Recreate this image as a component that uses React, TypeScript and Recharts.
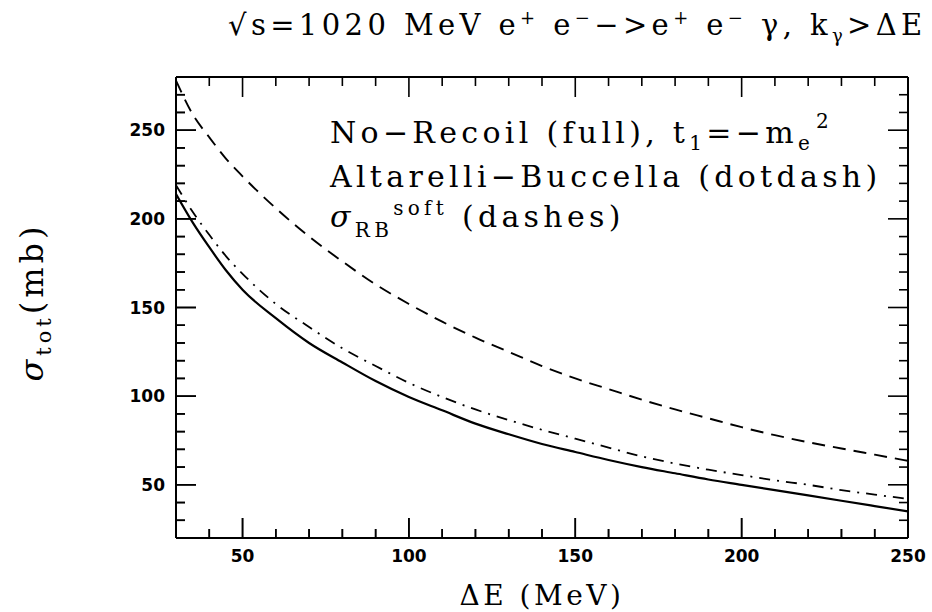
import { Line, LineChart, ReferenceLine, XAxis, YAxis } from "recharts";

// Delta E (MeV)
const deltaE = [30, 35, 40, 45, 50, 60, 70, 80, 90, 100, 110, 120, 130, 140, 150, 160, 170, 180, 190, 200, 210, 220, 230, 240, 250];
// No-Recoil (full), solid
const noRecoil = [214, 198, 184, 171, 160, 144, 130, 119, 108.5, 99.5, 92, 84.5, 78.5, 73, 68.5, 64, 60, 56.5, 53, 50, 47, 44, 41, 38, 35];
// Altarelli-Buccella, dot-dash
const altarelli = [219, 204, 191, 179, 169, 152, 139, 127, 117, 107.5, 99.5, 92.5, 86.5, 81, 76, 71, 66, 62, 58.5, 55.5, 52.5, 50, 47, 44.5, 42];
// sigma_RB soft, dashes
const softRB = [278, 259, 246, 234, 224, 206, 190, 176, 163, 152, 142, 133, 125, 117, 110, 104, 98, 92.5, 87.5, 82.5, 78, 74, 70.5, 67, 63.5];

const xDomain = [30, 250];
const yDomain = [20, 280];
const xTicks = [40, 50, 60, 70, 80, 90, 100, 110, 120, 130, 140, 150, 160, 170, 180, 190, 200, 210, 220, 230, 240, 250];
const yTicks = [30, 40, 50, 60, 70, 80, 90, 100, 110, 120, 130, 140, 150, 160, 170, 180, 190, 200, 210, 220, 230, 240, 250, 260, 270];

const data = deltaE.map((e, i) => ({
  e,
  full: noRecoil[i],
  ab: altarelli[i],
  soft: softRB[i],
}));

const serif = "'DejaVu Serif', serif";
const sans = "'DejaVu Sans', sans-serif";

const chartMargin = { top: 77, right: 24, bottom: 74, left: 176 };

// plot box in px, used to turn tick lengths (px) into data units
const plotW = 732;
const plotH = 461;
const majorLen = 20;
const minorLen = 9;
const lenInY = (px: number) => (px * (yDomain[1] - yDomain[0])) / plotH;
const lenInX = (px: number) => (px * (xDomain[1] - xDomain[0])) / plotW;
const isMajor = (v: number) => v % 50 === 0;
const tickLen = (v: number) => (isMajor(v) ? majorLen : minorLen);

const numberStyle = { fill: "#000", fontSize: 17, fontWeight: "bold", fontFamily: sans };
const tickStroke = { stroke: "#000", strokeWidth: 1.6, ifOverflow: "visible" as const };
const edgeStroke = { stroke: "#000", strokeWidth: 2, ifOverflow: "visible" as const };

// bottom and left tick marks, drawn from the frame edge inward
function BottomLeftTicks(inset: number) {
  return [
    ...xTicks.map((v) => (
      <ReferenceLine
        key={`b${v}`}
        segment={[
          { x: v, y: yDomain[0] + lenInY(inset) },
          { x: v, y: yDomain[0] + lenInY(tickLen(v)) },
        ]}
        {...tickStroke}
      />
    )),
    ...yTicks.map((v) => (
      <ReferenceLine
        key={`l${v}`}
        segment={[
          { x: xDomain[0] + lenInX(inset), y: v },
          { x: xDomain[0] + lenInX(tickLen(v)), y: v },
        ]}
        {...tickStroke}
      />
    )),
  ];
}

export default function App() {
  return (
    <div style={{ position: "absolute", left: 0, top: 0, width: 932, height: 612, background: "#fff" }}>
      <LineChart width={932} height={612} data={data} margin={chartMargin}>
        <XAxis dataKey="e" type="number" domain={xDomain} hide allowDataOverflow />
        <YAxis type="number" domain={yDomain} hide allowDataOverflow />

        <Line type="monotone" dataKey="full" stroke="#000" strokeWidth={2.2} dot={false} isAnimationActive={false} />
        <Line
          type="monotone"
          dataKey="ab"
          stroke="#000"
          strokeWidth={1.8}
          strokeDasharray="11 7 2 7"
          dot={false}
          isAnimationActive={false}
        />
        <Line
          type="monotone"
          dataKey="soft"
          stroke="#000"
          strokeWidth={1.9}
          strokeDasharray="13 8"
          dot={false}
          isAnimationActive={false}
        />

        {/* frame */}
        <ReferenceLine y={yDomain[0]} {...edgeStroke} />
        <ReferenceLine y={yDomain[1]} {...edgeStroke} />
        <ReferenceLine x={xDomain[0]} {...edgeStroke} />
        <ReferenceLine x={xDomain[1]} {...edgeStroke} />

        {/* top and right ticks */}
        {xTicks.map((v) => (
          <ReferenceLine
            key={`t${v}`}
            segment={[{ x: v, y: yDomain[1] }, { x: v, y: yDomain[1] - lenInY(tickLen(v)) }]}
            {...tickStroke}
          />
        ))}
        {yTicks.map((v) => (
          <ReferenceLine
            key={`r${v}`}
            segment={[{ x: xDomain[1], y: v }, { x: xDomain[1] - lenInX(tickLen(v)), y: v }]}
            {...tickStroke}
          />
        ))}

        {/* numbers under the bottom edge and left of the left edge */}
        {xTicks.filter(isMajor).map((v) => (
          <ReferenceLine
            key={`bn${v}`}
            segment={[{ x: v, y: yDomain[0] }, { x: v, y: yDomain[0] }]}
            stroke="none"
            ifOverflow="visible"
            label={{ value: v, position: "bottom", offset: 12, ...numberStyle }}
          />
        ))}
        {yTicks.filter(isMajor).map((v) => (
          <ReferenceLine
            key={`ln${v}`}
            segment={[{ x: xDomain[0], y: v }, { x: xDomain[0], y: v }]}
            stroke="none"
            ifOverflow="visible"
            label={{ value: v, position: "left", offset: 11, ...numberStyle }}
          />
        ))}

        {BottomLeftTicks(1)}
      </LineChart>

      {/* second, transparent layer holding the bottom and left ticks */}
      <div style={{ position: "absolute", left: 0, top: 0, pointerEvents: "none" }}>
        <LineChart width={932} height={612} data={data} margin={chartMargin}>
          <XAxis dataKey="e" type="number" domain={xDomain} hide allowDataOverflow />
          <YAxis type="number" domain={yDomain} hide allowDataOverflow />
          {BottomLeftTicks(0)}
        </LineChart>
      </div>

      <svg
        width={932}
        height={612}
        style={{ position: "absolute", left: 0, top: 0, pointerEvents: "none", whiteSpace: "pre" }}
        fontFamily={serif}
        fill="#000"
      >
        {/* title */}
        <text x={228} y={35} fontSize={29} letterSpacing={4.4}>
          √s=1020 MeV e<tspan dy={-11} fontSize={18}>+</tspan>
          <tspan dy={11}> e</tspan>
          <tspan dy={-11} fontSize={18}>−</tspan>
          <tspan dy={11}>−&gt;e</tspan>
          <tspan dy={-11} fontSize={18}>+</tspan>
          <tspan dy={11}> e</tspan>
          <tspan dy={-11} fontSize={18}>−</tspan>
          <tspan dy={11}>  γ, k</tspan>
          <tspan dy={7} fontSize={18}>γ</tspan>
          <tspan dy={-7}>&gt;ΔE</tspan>
        </text>

        {/* legend notes */}
        <text x={330} y={143} fontSize={30} letterSpacing={4.3}>
          No−Recoil (full), t<tspan dy={7} fontSize={20}>1</tspan>
          <tspan dy={-7}>=−m</tspan>
          <tspan dy={7} fontSize={20}>e</tspan>
          <tspan dy={-22} fontSize={20} dx={2}>2</tspan>
        </text>
        <text x={330} y={187} fontSize={30} letterSpacing={4.3}>
          Altarelli−Buccella (dotdash)
        </text>
        <text x={330} y={227} fontSize={30} letterSpacing={4.3}>
          <tspan fontStyle="italic">σ</tspan>
          <tspan dy={10} fontSize={20}>RB</tspan>
          <tspan dy={-22} fontSize={20}>soft</tspan>
          <tspan dy={12}> (dashes)</tspan>
        </text>

        {/* axis titles */}
        <text x={542} y={605} fontSize={28} letterSpacing={3.5} textAnchor="middle">
          ΔE (MeV)
        </text>
        <text x={0} y={0} fontSize={32} letterSpacing={4} textAnchor="middle" transform="translate(43 302) rotate(-90)">
          <tspan fontStyle="italic">σ</tspan>
          <tspan dy={8} fontSize={21}>tot</tspan>
          <tspan dy={-8}>(mb)</tspan>
        </text>
      </svg>
    </div>
  );
}
